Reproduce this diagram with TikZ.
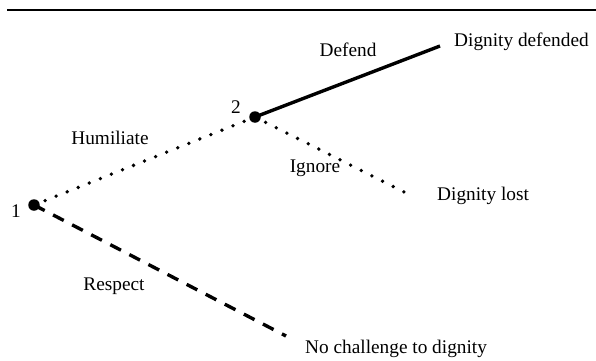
\documentclass[tikz,border=0pt]{standalone}
\usepackage{fontspec}
\setmainfont{Liberation Serif}
\begin{document}
\begin{tikzpicture}[x=1pt,y=1pt,
  lbl/.style={font=\fontsize{19.3}{23}\selectfont, inner sep=0pt},
  dotnode/.style={circle, fill=black, minimum size=11.5pt, inner sep=0pt},
  solidedge/.style={line width=3.4pt},
  dottededge/.style={line width=3.8pt, line cap=round, dash pattern=on 0pt off 11.9pt},
  dashededge/.style={line width=3.4pt, dash pattern=on 12pt off 9.5pt}]
\useasboundingbox (0,0) rectangle (596,360);
% top rule
\coordinate (r1) at (7,350);
\coordinate (r2) at (596,350);
\draw[line width=2pt] (r1) -- (r2);
% decision nodes
\node[dotnode] (n1) at (34,155) {};
\node[dotnode] (n2) at (255,243) {};
% end points
\coordinate (dd) at (440,314);
\coordinate (dl) at (406,167);
\coordinate (nc) at (286,24);
% edges
\draw[dottededge] (n1.center) -- (n2.center);
\draw[solidedge] (n2.center) -- (dd);
\draw[dottededge] (n2.center) -- (dl);
\draw[dashededge] (n1.center) -- (nc);
% labels
\node[lbl, anchor=base] (l1) at (16,143) {1};
\node[lbl, anchor=base] (l2) at (236,247) {2};
\node[lbl, anchor=base] (hum) at (110,216) {Humiliate};
\node[lbl, anchor=base] (def) at (348,304) {Defend};
\node[lbl, anchor=base] (ign) at (315,188) {Ignore};
\node[lbl, anchor=base] (res) at (114,70) {Respect};
\node[lbl, anchor=base west] (tdd) at (454,314) {Dignity defended};
\node[lbl, anchor=base west] (tdl) at (437,160) {Dignity lost};
\node[lbl, anchor=base west] (tnc) at (305,7) {No challenge to dignity};
\end{tikzpicture}
\end{document}
